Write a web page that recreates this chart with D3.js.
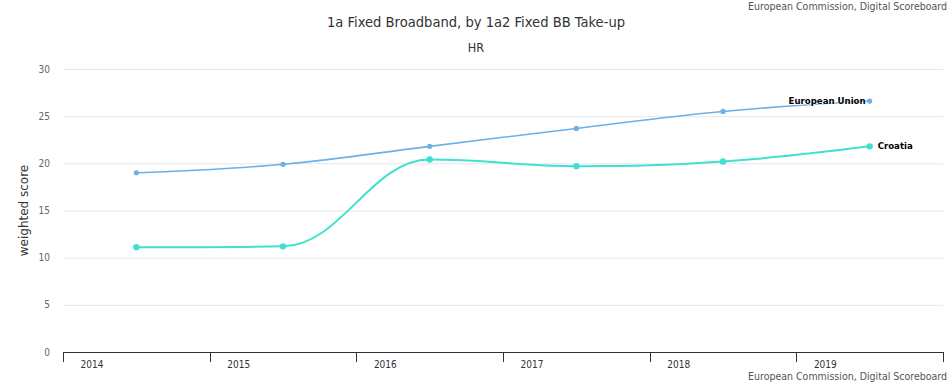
<!DOCTYPE html>
<html><head><meta charset="utf-8">
<script src="https://cdn.jsdelivr.net/npm/d3@7"></script>
<style>
body{margin:0;background:#fff;}
svg{display:block;font-family:"DejaVu Sans Condensed","DejaVu Sans",sans-serif;}
</style></head>
<body><svg id="c" width="949" height="383"></svg>
<script>
const years = ["2014","2015","2016","2017","2018","2019"];
const euValues = [19.0, 19.9, 21.8, 23.7, 25.5, 26.6];
const hrValues = [11.1, 11.2, 20.4, 19.7, 20.2, 21.8];
const yTicks = [0,5,10,15,20,25,30];
const seriesNames = ["European Union","Croatia"];

const svg = d3.select("#c");
const W=949,H=383;
const m={l:63,r:6,t:69,b:31};
const x = d3.scaleBand().domain(years).range([m.l, W-m.r]).padding(0);
const y = d3.scaleLinear().domain([0,30]).range([H-m.b, m.t]);

// credits
svg.append("text").attr("x",W-2).attr("y",10).attr("text-anchor","end")
  .attr("font-size",10.5).attr("fill","#555").text("European Commission, Digital Scoreboard");
svg.append("text").attr("x",W-2).attr("y",380).attr("text-anchor","end")
  .attr("font-size",10.5).attr("fill","#555").text("European Commission, Digital Scoreboard");

// title
svg.append("text").attr("x",476).attr("y",27).attr("text-anchor","middle")
  .attr("font-size",14.6).attr("fill","#333").text("1a Fixed Broadband, by 1a2 Fixed BB Take-up");
svg.append("text").attr("x",476).attr("y",52).attr("text-anchor","middle")
  .attr("font-size",12.5).attr("fill","#333").text("HR");

// grid
svg.append("g").selectAll("line").data(yTicks.filter(d=>d>0)).join("line")
  .attr("x1",m.l).attr("x2",W-m.r).attr("y1",d=>y(d)+0.5).attr("y2",d=>y(d)+0.5)
  .attr("stroke","#e6e6e6");

// y labels
svg.append("g").selectAll("text").data(yTicks).join("text")
  .attr("x",50).attr("y",d=>y(d)+3.5).attr("text-anchor","end")
  .attr("font-size",10).attr("fill","#666").text(d=>d);

svg.append("text").attr("transform",`translate(28,${(y(0)+y(30))/2}) rotate(-90)`)
  .attr("text-anchor","middle").attr("font-size",12).attr("fill","#333")
  .attr("font-family","'DejaVu Sans',sans-serif").text("weighted score");

// x axis
const xa = svg.append("g");
xa.append("line").attr("x1",m.l).attr("x2",W-m.r).attr("y1",y(0)+0.5).attr("y2",y(0)+0.5).attr("stroke","#333");
const tickPos = years.map(d=>x(d)).concat([x(years[years.length-1])+x.bandwidth()]);
xa.selectAll("line.t").data(tickPos).join("line").attr("class","t")
  .attr("x1",d=>Math.round(d)+0.5).attr("x2",d=>Math.round(d)+0.5)
  .attr("y1",y(0)).attr("y2",y(0)+10).attr("stroke","#333");
xa.selectAll("text").data(years).join("text")
  .attr("x",d=>x(d)+29).attr("y",y(0)+16).attr("text-anchor","middle")
  .attr("font-size",10).attr("fill","#333").text(d=>d);

// Highcharts-like spline
function spline(pts){
  const sm=1.5, den=sm+1;
  const c=pts.map(p=>({x:p[0],y:p[1]}));
  for(let i=1;i<c.length-1;i++){
    const p=c[i],l=c[i-1],n=c[i+1];
    let lcx=(sm*p.x+l.x)/den, lcy=(sm*p.y+l.y)/den;
    let rcx=(sm*p.x+n.x)/den, rcy=(sm*p.y+n.y)/den;
    if(rcx!==lcx){
      const corr=((rcy-lcy)*(rcx-p.x))/(rcx-lcx)+p.y-rcy;
      lcy+=corr; rcy+=corr;
    }
    if(lcy>l.y&&lcy>p.y){lcy=Math.max(l.y,p.y);rcy=2*p.y-lcy;}
    else if(lcy<l.y&&lcy<p.y){lcy=Math.min(l.y,p.y);rcy=2*p.y-lcy;}
    if(rcy>n.y&&rcy>p.y){rcy=Math.max(n.y,p.y);lcy=2*p.y-rcy;}
    else if(rcy<n.y&&rcy<p.y){rcy=Math.min(n.y,p.y);lcy=2*p.y-rcy;}
    p.lcx=lcx;p.lcy=lcy;p.rcx=rcx;p.rcy=rcy;
  }
  let d=`M${c[0].x},${c[0].y}`;
  for(let i=1;i<c.length;i++){
    const a=c[i-1],b=c[i];
    d+=`C${a.rcx??a.x},${a.rcy??a.y} ${b.lcx??b.x},${b.lcy??b.y} ${b.x},${b.y}`;
  }
  return d;
}
const cx=d=>x(d)+x.bandwidth()/2;
const series=[
  {name:seriesNames[0],vals:euValues,color:"#6cb0e6",r:2.6,w:1.6},
  {name:seriesNames[1],vals:hrValues,color:"#40e0d0",r:3.2,w:2}
];
series.forEach(s=>{
  const pts=years.map((yr,i)=>[cx(yr),y(s.vals[i])]);
  svg.append("path").attr("d",spline(pts)).attr("fill","none")
    .attr("stroke",s.color).attr("stroke-width",s.w);
  svg.append("g").selectAll("circle").data(pts).join("circle")
    .attr("cx",d=>d[0]).attr("cy",d=>d[1]).attr("r",s.r).attr("fill",s.color);
});
// labels
const lastX=cx(years[years.length-1]);
svg.append("text").attr("x",lastX-4).attr("y",y(euValues[5])+3)
  .attr("text-anchor","end").attr("font-size",8.6).attr("font-weight","bold")
  .attr("font-family","Verdana,'DejaVu Sans',sans-serif")
  .attr("fill","#000").attr("stroke","#fff").attr("stroke-width",2).attr("paint-order","stroke")
  .attr("stroke-opacity",0.6).text(seriesNames[0]);
svg.append("text").attr("x",lastX+8).attr("y",y(hrValues[5])+3)
  .attr("font-size",8.6).attr("font-weight","bold")
  .attr("font-family","Verdana,'DejaVu Sans',sans-serif")
  .attr("fill","#000").attr("stroke","#fff").attr("stroke-width",2).attr("paint-order","stroke")
  .text(seriesNames[1]);
</script></body></html>
